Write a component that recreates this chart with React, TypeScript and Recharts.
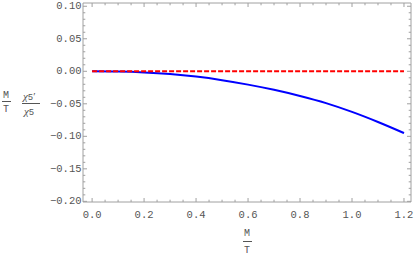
import React from "react";
import { ComposedChart, Line, XAxis, YAxis } from "recharts";

// ---- data ----
const xValues = [0, 0.1, 0.2, 0.3, 0.4, 0.5, 0.6, 0.7, 0.8, 0.9, 1.0, 1.1, 1.2];
const chiRatio = [0, -0.0004, -0.0017, -0.0042, -0.0082, -0.0137, -0.0205, -0.0285, -0.038, -0.049, -0.0625, -0.078, -0.095];
const zeroLine = [0, 0, 0, 0, 0, 0, 0, 0, 0, 0, 0, 0, 0];

const xMajorTicks = [0, 0.2, 0.4, 0.6, 0.8, 1.0, 1.2];
const yMajorTicks = [-0.2, -0.15, -0.1, -0.05, 0, 0.05, 0.1];
const xMinorStep = 0.05;
const yMinorStep = 0.01;

const xDomain: [number, number] = [-0.035, 1.227];
const yDomain: [number, number] = [-0.201, 0.105];

const data = xValues.map((x, i) => ({ x, chi: chiRatio[i], zero: zeroLine[i] }));

function stepTicks(lo: number, hi: number, step: number): number[] {
  const out: number[] = [];
  const start = Math.ceil(lo / step - 1e-9);
  const end = Math.floor(hi / step + 1e-9);
  for (let k = start; k <= end; k++) out.push(+(k * step).toFixed(6));
  return out;
}
const xAllTicks = stepTicks(0, 1.2, xMinorStep);
const yAllTicks = stepTicks(-0.2, 0.1, yMinorStep);

const isMajor = (v: number, majors: number[]) => majors.some((m) => Math.abs(m - v) < 1e-6);

const FRAME = "#a0a0a0";
const LABEL = "#555555";
const MONO = "Liberation Mono, Courier New, monospace";
const FS = 10.5;
const MAJ = 4;
const MIN = 2.3;

const fmtY = (v: number) => (v < 0 ? "\u2212" : "") + Math.abs(v).toFixed(2);
const fmtX = (v: number) => v.toFixed(1);

const BottomTick = (p: any) => {
  const { x, y, payload } = p;
  const maj = isMajor(payload.value, xMajorTicks);
  return (
    <g>
      <line x1={x} x2={x} y1={y} y2={y - (maj ? MAJ : MIN)} stroke={FRAME} strokeWidth={1} />
      {maj && (
        <text x={x} y={y + 13} textAnchor="middle" dominantBaseline="central" style={{ fontFamily: MONO }} fontSize={FS} fill={LABEL}>
          {fmtX(payload.value)}
        </text>
      )}
    </g>
  );
};
const TopTick = (p: any) => {
  const { x, y, payload } = p;
  const maj = isMajor(payload.value, xMajorTicks);
  return <line x1={x} x2={x} y1={y} y2={y + (maj ? MAJ : MIN)} stroke={FRAME} strokeWidth={1} />;
};
const LeftTick = (p: any) => {
  const { x, y, payload } = p;
  const maj = isMajor(payload.value, yMajorTicks);
  return (
    <g>
      <line x1={x} x2={x + (maj ? MAJ : MIN)} y1={y} y2={y} stroke={FRAME} strokeWidth={1} />
      {maj && (
        <text x={x - 1.5} y={y} textAnchor="end" dominantBaseline="central" style={{ fontFamily: MONO }} fontSize={FS} fill={LABEL}>
          {fmtY(payload.value)}
        </text>
      )}
    </g>
  );
};
const RightTick = (p: any) => {
  const { x, y, payload } = p;
  const maj = isMajor(payload.value, yMajorTicks);
  return <line x1={x} x2={x - (maj ? MAJ : MIN)} y1={y} y2={y} stroke={FRAME} strokeWidth={1} />;
};

const labelStyle: React.CSSProperties = {
  position: "absolute",
  fontFamily: MONO,
  fontSize: 10,
  color: LABEL,
  lineHeight: 1,
  whiteSpace: "nowrap",
};
const bar = (left: number, top: number, width: number): React.CSSProperties => ({
  position: "absolute",
  left,
  top,
  width,
  height: 1,
  background: LABEL,
});

export default function App() {
  return (
    <div style={{ position: "absolute", left: 0, top: 0, width: 414, height: 258, background: "#fff" }}>
      <ComposedChart width={414} height={258} data={data} margin={{ top: 0, right: 0, bottom: 0, left: 0 }}>
        <XAxis
          xAxisId="b"
          dataKey="x"
          type="number"
          orientation="bottom"
          domain={xDomain}
          ticks={xAllTicks}
          interval={0}
          allowDataOverflow
          height={56}
          tickSize={0}
          tickMargin={0}
          tickLine={false}
          axisLine={{ stroke: FRAME }}
          tick={<BottomTick />}
        />
        <XAxis
          xAxisId="t"
          dataKey="x"
          type="number"
          orientation="top"
          domain={xDomain}
          ticks={xAllTicks}
          interval={0}
          allowDataOverflow
          height={3}
          tickSize={0}
          tickMargin={0}
          tickLine={false}
          axisLine={{ stroke: FRAME }}
          tick={<TopTick />}
        />
        <YAxis
          yAxisId="l"
          type="number"
          orientation="left"
          domain={yDomain}
          ticks={yAllTicks}
          interval={0}
          allowDataOverflow
          width={83}
          tickSize={0}
          tickMargin={0}
          tickLine={false}
          axisLine={{ stroke: FRAME }}
          tick={<LeftTick />}
        />
        <YAxis
          yAxisId="r"
          type="number"
          orientation="right"
          domain={yDomain}
          ticks={yAllTicks}
          interval={0}
          allowDataOverflow
          width={3}
          tickSize={0}
          tickMargin={0}
          tickLine={false}
          axisLine={{ stroke: FRAME }}
          tick={<RightTick />}
        />
        <Line
          xAxisId="b"
          yAxisId="l"
          dataKey="chi"
          type="monotone"
          stroke="#0000ff"
          strokeWidth={2}
          dot={false}
          isAnimationActive={false}
        />
        <Line
          xAxisId="b"
          yAxisId="l"
          dataKey="zero"
          type="linear"
          stroke="#ff0000"
          strokeWidth={2}
          strokeDasharray="5 2"
          dot={false}
          isAnimationActive={false}
        />
      </ComposedChart>

      {/* y-axis label: (M/T) (chi5'/chi5) */}
      <div style={{ ...labelStyle, left: 3, top: 91 }}>M</div>
      <div style={bar(2, 101, 9)} />
      <div style={{ ...labelStyle, left: 3, top: 105 }}>T</div>

      <div style={{ ...labelStyle, left: 23, top: 91, fontFamily: "Liberation Serif, serif" }}>
        <span style={{ fontStyle: "italic", fontSize: 11 }}>χ</span>
        <span style={{ fontFamily: MONO, fontSize: 9 }}>5</span>
        <span style={{ fontSize: 11 }}>′</span>
      </div>
      <div style={bar(22, 103, 18)} />
      <div style={{ ...labelStyle, left: 24, top: 106, fontFamily: "Liberation Serif, serif" }}>
        <span style={{ fontStyle: "italic", fontSize: 11 }}>χ</span>
        <span style={{ fontFamily: MONO, fontSize: 9 }}>5</span>
      </div>

      {/* x-axis label: M/T */}
      <div style={{ ...labelStyle, left: 244, top: 229 }}>M</div>
      <div style={bar(243, 241, 9)} />
      <div style={{ ...labelStyle, left: 244, top: 246 }}>T</div>
    </div>
  );
}
